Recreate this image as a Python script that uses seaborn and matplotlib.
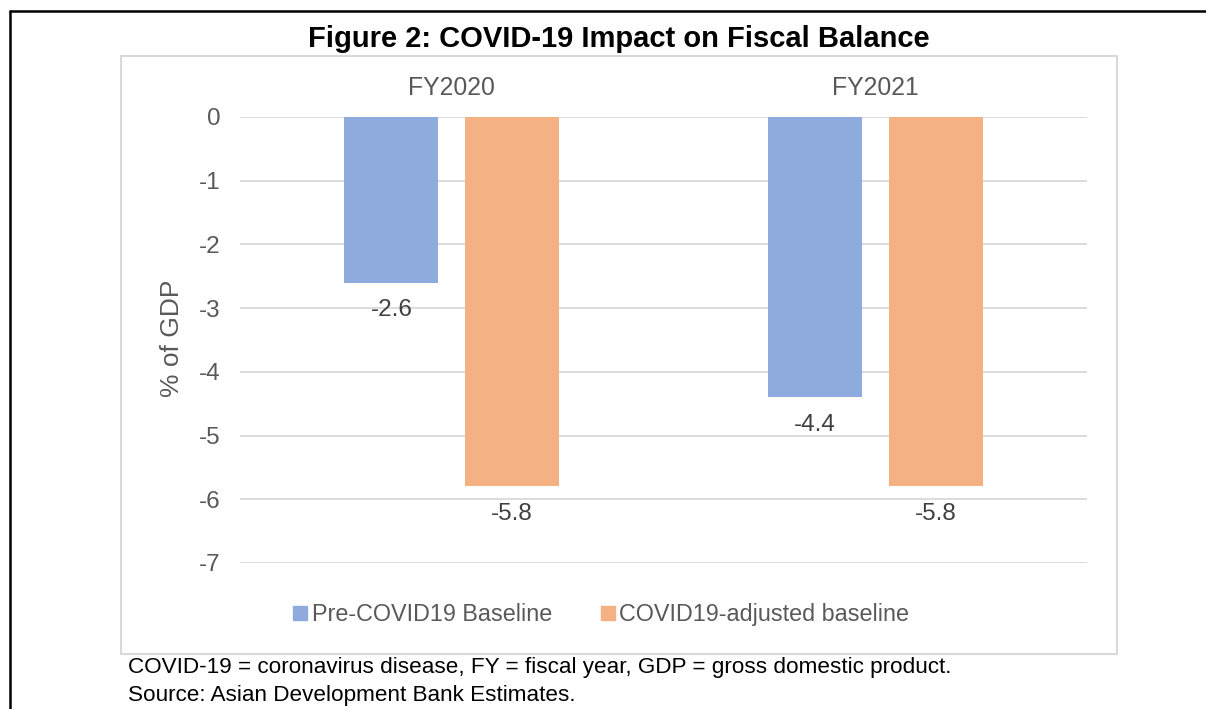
import pandas as pd
import matplotlib.pyplot as plt
import seaborn as sns
from matplotlib.lines import Line2D
from matplotlib.patches import Rectangle

# Data
years = ['FY2020', 'FY2021']
series = ['Pre-COVID19 Baseline', 'COVID19-adjusted baseline']
pre_covid = [-2.6, -4.4]
covid_adj = [-5.8, -5.8]
yticks = [0, -1, -2, -3, -4, -5, -6, -7]

colors = ['#8FAADC', '#F4B183']
GRAY = '#595959'

sns.set_style('white')
plt.rcParams['font.family'] = ['Liberation Sans', 'DejaVu Sans']

df = pd.DataFrame({
    'year': years * 2,
    'series': [series[0]] * len(years) + [series[1]] * len(years),
    'value': pre_covid + covid_adj,
})

fig = plt.figure(figsize=(12.06, 7.09), dpi=100)
ax = fig.add_axes([0.199, 0.206, 0.7023, 0.629])

sns.barplot(data=df, x='year', y='value', hue='series', palette=colors,
            saturation=1, width=0.57, gap=0.22, linewidth=0, legend=False, ax=ax)

# data labels under each bar
for cont in ax.containers:
    ax.bar_label(cont, fmt='%.1f', padding=12, fontsize=17.5, color='#404040')

ax.set_ylim(-7, 0)
ax.set_xlim(-0.5, 1.5)
ax.set_yticks(yticks)
ax.set_yticklabels([str(v) for v in yticks])
ax.xaxis.tick_top()
ax.tick_params(axis='x', length=0, pad=12, labelsize=17.8, labelcolor=GRAY)
ax.tick_params(axis='y', length=0, pad=14, labelsize=17.5, labelcolor=GRAY)
ax.set_xlabel('')
ax.set_ylabel('')
ax.grid(axis='y', color='#d9d9d9', linewidth=1.3)
ax.set_axisbelow(True)
for s in ax.spines.values():
    s.set_visible(False)

fig.text(172 / 1206, 1 - 338 / 709, '% of GDP', rotation=90, ha='center', va='center',
         fontsize=19, color=GRAY)

# legend with small square markers
handles = [Line2D([], [], marker='s', ls='', color=c, markersize=10) for c in colors]
fig.legend(handles, series, loc='center', bbox_to_anchor=(600 / 1206, 0.1326), ncol=2,
           frameon=False, fontsize=16.8, labelcolor=GRAY, handletextpad=0.1,
           columnspacing=2.0, handlelength=0.8)

# chart frame and page border
fig.patches.append(Rectangle((0.1003, 0.0776), 0.8259, 0.8434, transform=fig.transFigure,
                             fill=False, edgecolor='#d9d9d9', linewidth=1.5))
fig.add_artist(Line2D([0.0083, 1.0], [0.9845, 0.9845], transform=fig.transFigure,
                      color='black', linewidth=1.8))
fig.add_artist(Line2D([0.0083, 0.0083], [0.0, 0.9845], transform=fig.transFigure,
                      color='black', linewidth=1.8))

fig.text(619 / 1206, 1 - 39 / 709, 'Figure 2: COVID-19 Impact on Fiscal Balance',
         ha='center', va='center', fontsize=21, fontweight='bold', color='black')
fig.text(0.106, 1 - 668 / 709, 'COVID-19 = coronavirus disease, FY = fiscal year, GDP = gross domestic product.',
         ha='left', va='center', fontsize=16.2, color='black')
fig.text(0.106, 1 - 695 / 709, 'Source: Asian Development Bank Estimates.',
         ha='left', va='center', fontsize=16.2, color='black')

fig.savefig('out.png', dpi=100)
